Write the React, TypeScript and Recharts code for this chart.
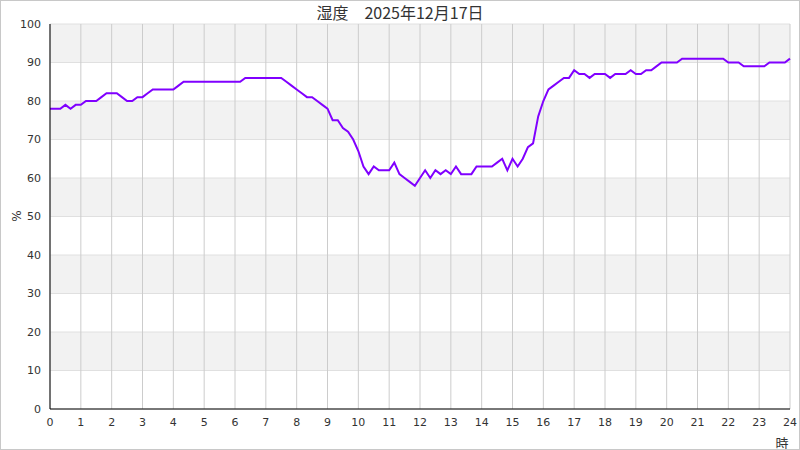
import React from 'react';
import { LineChart, Line, XAxis, YAxis, CartesianGrid } from 'recharts';

// humidity (%) every 10 minutes, 00:00 .. 24:00
const humidity = [
  78, 78, 78, 79, 78, 79,
  79, 80, 80, 80, 81, 82,
  82, 82, 81, 80, 80, 81,
  81, 82, 83, 83, 83, 83,
  83, 84, 85, 85, 85, 85,
  85, 85, 85, 85, 85, 85,
  85, 85, 86, 86, 86, 86,
  86, 86, 86, 86, 85, 84,
  83, 82, 81, 81, 80, 79,
  78, 75, 75, 73, 72, 70,
  67, 63, 61, 63, 62, 62,
  62, 64, 61, 60, 59, 58,
  60, 62, 60, 62, 61, 62,
  61, 63, 61, 61, 61, 63,
  63, 63, 63, 64, 65, 62,
  65, 63, 65, 68, 69, 76,
  80, 83, 84, 85, 86, 86,
  88, 87, 87, 86, 87, 87,
  87, 86, 87, 87, 87, 88,
  87, 87, 88, 88, 89, 90,
  90, 90, 90, 91, 91, 91,
  91, 91, 91, 91, 91, 91,
  90, 90, 90, 89, 89, 89,
  89, 89, 90, 90, 90, 90,
  91,
];

const hourLabels = ['0', '1', '2', '3', '4', '5', '6', '7', '8', '9', '10', '11', '12', '13', '14', '15', '16', '17', '18', '19', '20', '21', '22', '23', '24'];
const yTicks = [0, 10, 20, 30, 40, 50, 60, 70, 80, 90, 100];
const SLOTS_PER_HOUR = 6;

const title = '湿度　2025年12月17日';
const xLabel = '時';
const yLabel = '%';

const data = humidity.map((v, i) => ({ slot: i, value: v }));
const xTicks = hourLabels.map((_, i) => i * SLOTS_PER_HOUR);

const tickFont = { fontSize: 11, fill: '#333', fontFamily: 'DejaVu Sans' };

export default function App() {
  return (
    <div style={{ position: 'absolute', left: 0, top: 0, width: 800, height: 450, background: '#fff' }}>
      <LineChart width={800} height={450} data={data} margin={{ top: 24, right: 10, bottom: 0, left: 0 }}>
        <CartesianGrid
          xAxisId="b"
          yAxisId="l"
          vertical={false}
          stroke="#e0e0e0"
          horizontalFill={['#f2f2f2', '#ffffff']}
          fillOpacity={1}
        />
        <CartesianGrid xAxisId="b" yAxisId="l" horizontal={false} stroke="#cccccc" />
        <XAxis
          xAxisId="b"
          dataKey="slot"
          type="number"
          domain={[0, 144]}
          ticks={xTicks}
          tickFormatter={(v) => hourLabels[Math.round(v / SLOTS_PER_HOUR)]}
          tick={tickFont}
          tickLine={false}
          tickSize={0}
          tickMargin={9}
          height={41}
          axisLine={{ stroke: '#000' }}
          interval={0}
          label={() => (
            <text x={782} y={442} textAnchor="middle" dominantBaseline="central" fontSize={13} fill="#333" fontFamily="Noto Sans CJK JP">
              {xLabel}
            </text>
          )}
        />
        <XAxis
          xAxisId="t"
          orientation="top"
          dataKey="slot"
          type="number"
          domain={[0, 144]}
          tick={false}
          tickLine={false}
          height={0}
          axisLine={{ stroke: '#000' }}
        />
        <YAxis
          yAxisId="l"
          domain={[0, 100]}
          ticks={yTicks}
          tick={tickFont}
          tickLine={false}
          tickSize={0}
          tickMargin={9}
          width={50}
          axisLine={{ stroke: '#000' }}
          interval={0}
          label={() => (
            <text x={17} y={216} transform="rotate(-90, 17, 216)" textAnchor="middle" dominantBaseline="central" fontSize={12} fill="#333" fontFamily="DejaVu Sans">
              {yLabel}
            </text>
          )}
        />
        <YAxis
          yAxisId="r"
          orientation="right"
          domain={[0, 100]}
          tick={false}
          tickLine={false}
          width={0}
          axisLine={{ stroke: '#000' }}
        />
        <Line
          xAxisId="b"
          yAxisId="l"
          type="linear"
          dataKey="value"
          stroke="#8000ff"
          strokeWidth={2}
          dot={false}
          isAnimationActive={false}
        />
      </LineChart>
      <div
        style={{
          position: 'absolute',
          left: 0,
          top: 2,
          width: 800,
          textAlign: 'center',
          fontFamily: 'Noto Sans CJK JP',
          fontSize: 16,
          lineHeight: '20px',
          color: '#333',
        }}
      >
        {title}
      </div>
      <div
        style={{
          position: 'absolute',
          left: 0,
          top: 0,
          width: 800,
          height: 450,
          boxSizing: 'border-box',
          border: '1px solid #c8c8c8',
          pointerEvents: 'none',
        }}
      />
    </div>
  );
}
